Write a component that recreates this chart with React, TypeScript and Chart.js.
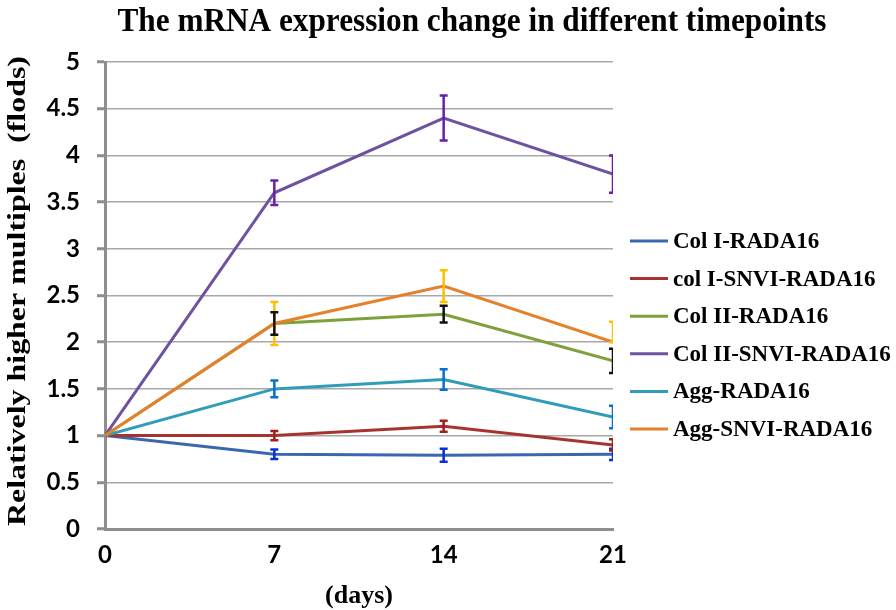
import React, { useEffect, useRef } from "react";
import { Chart, registerables } from "chart.js";

Chart.register(...registerables);

// ---- data ----
const days = [0, 7, 14, 21];
const yTicks = [0, 0.5, 1, 1.5, 2, 2.5, 3, 3.5, 4, 4.5, 5];
const seriesNames = [
  "Col I-RADA16",
  "col I-SNVI-RADA16",
  "Col II-RADA16",
  "Col II-SNVI-RADA16",
  "Agg-RADA16",
  "Agg-SNVI-RADA16",
];
const colI = [1, 0.8, 0.79, 0.8];
const colISnvi = [1, 1.0, 1.1, 0.9];
const colII = [1, 2.2, 2.3, 1.8];
const colIISnvi = [1, 3.6, 4.4, 3.8];
const agg = [1, 1.5, 1.6, 1.2];
const aggSnvi = [1, 2.2, 2.6, 2.0];

const colIErr = [0, 0.05, 0.07, 0.06];
const colISnviErr = [0, 0.05, 0.06, 0.06];
const colIIErr = [0, 0.12, 0.09, 0.13];
const colIISnviErr = [0, 0.13, 0.24, 0.2];
const aggErr = [0, 0.09, 0.11, 0.12];
const aggSnviErrPlus = [0, 0.23, 0.17, 0.22];
const aggSnviErrMinus = [0, 0.23, 0.17, 0];

const titleText = "The mRNA expression change in different timepoints";
const yTitleText = "Relatively higher multiples  (flods)";
const xTitleText = "(days)";

// ---- styles ----
const lineColors = ["#3A68AE", "#A7332F", "#7DA23B", "#6E52A0", "#2F9DBA", "#E6802B"];
const errColors = ["#0A2ED8", "#A51E1E", "#111111", "#6A1FA8", "#0A6FD0", "#FFC000"];
const drawOrder = [0, 1, 4, 5, 2, 3]; // error bar draw order: yellow before black
const SERIF = "'Liberation Serif', 'Times New Roman', serif";
const SANS = "Lato, 'Open Sans', sans-serif";

const seriesValues = [colI, colISnvi, colII, colIISnvi, agg, aggSnvi];
const errPlus = [colIErr, colISnviErr, colIIErr, colIISnviErr, aggErr, aggSnviErrPlus];
const errMinus = [colIErr, colISnviErr, colIIErr, colIISnviErr, aggErr, aggSnviErrMinus];

const errorBarPlugin = {
  id: "errorBars",
  afterDatasetsDraw(chart: any) {
    const { ctx, chartArea, scales } = chart;
    const xs = scales.x;
    const ys = scales.y;
    ctx.save();
    ctx.beginPath();
    ctx.rect(chartArea.left, chartArea.top - 20, chartArea.right - chartArea.left, chartArea.bottom - chartArea.top + 20);
    ctx.clip();
    drawOrder.forEach((si) => {
      const vals = seriesValues[si];
      ctx.strokeStyle = errColors[si];
      ctx.lineWidth = 2.5;
      vals.forEach((v, i) => {
        const p = errPlus[si][i];
        const m = errMinus[si][i];
        if (!p && !m) return;
        const x = xs.getPixelForValue(days[i]);
        const yt = ys.getPixelForValue(v + p);
        const yb = ys.getPixelForValue(v - m);
        const cw = 4;
        ctx.beginPath();
        ctx.moveTo(x, yt);
        ctx.lineTo(x, yb);
        ctx.moveTo(x - cw, yt);
        ctx.lineTo(x + cw, yt);
        ctx.moveTo(x - cw, yb);
        ctx.lineTo(x + cw, yb);
        ctx.stroke();
      });
    });
    ctx.restore();
  },
};

const decorPlugin = {
  id: "decor",
  afterDraw(chart: any) {
    const { ctx } = chart;
    ctx.save();
    ctx.fillStyle = "#000";
    // title
    ctx.font = `bold 33px ${SERIF}`;
    ctx.textAlign = "center";
    ctx.textBaseline = "alphabetic";
    const tw = ctx.measureText(titleText).width;
    ctx.save();
    ctx.translate(472, 31);
    ctx.scale(709 / tw, 1);
    ctx.fillText(titleText, 0, 0);
    ctx.restore();
    // y title
    ctx.save();
    ctx.translate(19, 291);
    ctx.rotate(-Math.PI / 2);
    ctx.font = `bold 25px ${SERIF}`;
    ctx.textBaseline = "middle";
    const yw = ctx.measureText(yTitleText).width;
    ctx.scale(470 / yw, 1);
    ctx.fillText(yTitleText, 0, 0);
    ctx.restore();
    // x title
    ctx.font = `bold 26px ${SERIF}`;
    ctx.textBaseline = "middle";
    ctx.fillText(xTitleText, 359, 596);
    // legend
    ctx.textAlign = "left";
    ctx.font = `bold 23px ${SERIF}`;
    seriesNames.forEach((name, i) => {
      const y = 241 + i * 37.6;
      ctx.strokeStyle = lineColors[i];
      ctx.lineWidth = 3;
      ctx.beginPath();
      ctx.moveTo(630, y);
      ctx.lineTo(668, y);
      ctx.stroke();
      ctx.fillText(name, 673, y + 1);
    });
    ctx.restore();
  },
};

export default function App() {
  const ref = useRef<HTMLCanvasElement | null>(null);
  useEffect(() => {
    if (!ref.current) return;
    const orders = [5, 4, 2, 1, 3, 0];
    const chart = new Chart(ref.current, {
      type: "line",
      data: {
        datasets: seriesNames.map((name, i) => ({
          label: name,
          data: seriesValues[i].map((v, j) => ({ x: days[j], y: v })),
          borderColor: lineColors[i],
          backgroundColor: lineColors[i],
          borderWidth: 3,
          pointRadius: 0,
          tension: 0,
          order: orders[i],
        })),
      },
      options: {
        responsive: false,
        animation: false,
        layout: { padding: { top: 62, right: 283, left: 0, bottom: 0 } },
        plugins: { legend: { display: false }, title: { display: false }, tooltip: { enabled: false } },
        scales: {
          x: {
            type: "linear",
            min: 0,
            max: 21,
            afterBuildTicks: (s: any) => {
              s.ticks = days.map((v) => ({ value: v }));
            },
            afterFit: (s: any) => {
              s.height = 81;
            },
            grid: { display: false, drawTicks: false },
            border: { display: true, color: "#8E8E8E", width: 3 },
            ticks: {
              padding: 12,
              color: "#000",
              font: { family: SANS, size: 24, weight: "bold" },
              maxRotation: 0,
              autoSkip: false,
            },
          },
          y: {
            min: 0,
            max: 5,
            afterBuildTicks: (s: any) => {
              s.ticks = yTicks.map((v) => ({ value: v }));
            },
            afterFit: (s: any) => {
              s.width = 105;
            },
            grid: { color: "#A8A8A8", lineWidth: 1.5, tickLength: 8, drawTicks: true, tickColor: "#8E8E8E", tickWidth: 3 },
            border: { display: true, color: "#8E8E8E", width: 3 },
            ticks: {
              padding: 17,
              color: "#000",
              font: { family: SANS, size: 24, weight: "bold" },
              callback: (v: any) => String(v),
            },
          },
        },
      },
      plugins: [errorBarPlugin, decorPlugin],
    } as any);
    return () => chart.destroy();
  }, []);
  return (
    <div style={{ position: "absolute", left: 0, top: 0, width: 896, height: 610, background: "#fff" }}>
      <canvas ref={ref} width={896} height={610} style={{ width: 896, height: 610 }} />
    </div>
  );
}
